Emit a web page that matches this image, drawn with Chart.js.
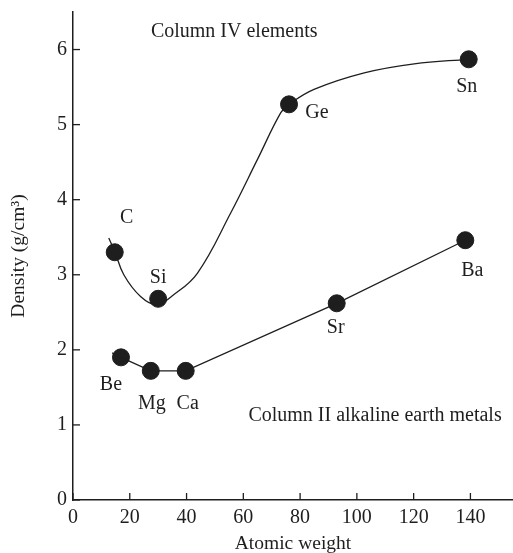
<!DOCTYPE html>
<html>
<head>
<meta charset="utf-8">
<script src="https://cdn.jsdelivr.net/npm/chart.js@4/dist/chart.umd.min.js"></script>
<style>
  body { margin: 0; background: #fff; }
  #wrap { width: 513px; height: 553px; }
</style>
</head>
<body>
<div id="wrap"><canvas id="chart" width="513" height="553"></canvas></div>
<script>
// column IV elements
const col4Names = ["C", "Si", "Ge", "Sn"];
const col4Weight = [14.7, 30.0, 76.1, 139.4];
const col4Density = [3.30, 2.68, 5.27, 5.87];
// hand drawn trend curve through them
const col4CurveX = [12.6, 14.7, 17.9, 23.8, 29.5, 35.0, 43.8, 55.5, 64.9, 73.2, 76.1, 84.9, 102.6, 120.2, 139.4];
const col4CurveY = [3.49, 3.31, 3.00, 2.71, 2.60, 2.72, 3.02, 3.82, 4.53, 5.16, 5.27, 5.47, 5.69, 5.81, 5.87];

// column II alkaline earth metals
const col2Names = ["Be", "Mg", "Ca", "Sr", "Ba"];
const col2Weight = [16.9, 27.4, 39.7, 92.9, 138.2];
const col2Density = [1.90, 1.72, 1.72, 2.62, 3.46];
const col2CurveX = [13.8, 16.9, 27.4, 39.7, 92.9, 138.2];
const col2CurveY = [1.96, 1.90, 1.72, 1.72, 2.62, 3.46];

const xTicks = [0, 20, 40, 60, 80, 100, 120, 140];
const yTicks = [0, 1, 2, 3, 4, 5, 6];

const ink = "#1e1e1e";
const serif = "'Liberation Serif', 'Times New Roman', serif";

const pts = (xs, ys) => xs.map((x, i) => ({ x: x, y: ys[i] }));

// name offsets (px) from each dot
const col4Offsets = [[12, -34], [0, -21], [28, 8], [-2, 27]];
const col2Offsets = [[-10, 27], [1, 33], [2, 33], [-1, 24], [7, 31]];

const labelPlugin = {
  id: "labels",
  afterDraw(chart) {
    const ctx = chart.ctx;
    const sx = chart.scales.x, sy = chart.scales.y;
    ctx.save();
    ctx.strokeStyle = ink;
    ctx.lineWidth = 1.3;
    // inward tick marks
    xTicks.forEach(v => {
      const px = sx.getPixelForValue(v);
      ctx.beginPath();
      ctx.moveTo(px, sy.bottom);
      ctx.lineTo(px, sy.bottom - 7);
      ctx.stroke();
    });
    yTicks.forEach(v => {
      const py = sy.getPixelForValue(v);
      ctx.beginPath();
      ctx.moveTo(sx.left, py);
      ctx.lineTo(sx.left + 7, py);
      ctx.stroke();
    });

    ctx.fillStyle = ink;
    ctx.font = "20px " + serif;
    ctx.textAlign = "center";
    ctx.textBaseline = "middle";
    col4Names.forEach((n, i) => {
      ctx.fillText(n, sx.getPixelForValue(col4Weight[i]) + col4Offsets[i][0],
        sy.getPixelForValue(col4Density[i]) + col4Offsets[i][1]);
    });
    col2Names.forEach((n, i) => {
      ctx.fillText(n, sx.getPixelForValue(col2Weight[i]) + col2Offsets[i][0],
        sy.getPixelForValue(col2Density[i]) + col2Offsets[i][1]);
    });
    ctx.fillText("Column IV elements", sx.getPixelForValue(56.8), sy.getPixelForValue(6.24));
    ctx.fillText("Column II alkaline earth metals", sx.getPixelForValue(106.4), sy.getPixelForValue(1.12));
    ctx.restore();
  }
};

new Chart(document.getElementById("chart"), {
  type: "scatter",
  data: {
    datasets: [
      {
        type: "line",
        data: pts(col4CurveX, col4CurveY),
        borderColor: ink,
        borderWidth: 1.3,
        pointRadius: 0,
        tension: 0.4,
        fill: false
      },
      {
        type: "line",
        data: pts(col2CurveX, col2CurveY),
        borderColor: ink,
        borderWidth: 1.3,
        pointRadius: 0,
        tension: 0,
        fill: false
      },
      {
        data: pts(col4Weight, col4Density),
        backgroundColor: ink,
        borderColor: ink,
        pointRadius: 8.5,
        pointHoverRadius: 8.5
      },
      {
        data: pts(col2Weight, col2Density),
        backgroundColor: ink,
        borderColor: ink,
        pointRadius: 8.5,
        pointHoverRadius: 8.5
      }
    ]
  },
  options: {
    responsive: false,
    animation: false,
    layout: { autoPadding: false, padding: { left: 0, top: 12, right: 0, bottom: 0 } },
    plugins: {
      legend: { display: false },
      tooltip: { enabled: false }
    },
    scales: {
      x: {
        type: "linear",
        min: 0,
        max: 155,
        afterFit: s => { s.height = 53; s.paddingLeft = 0; s.paddingRight = 0; },
        grid: { display: false, drawTicks: false },
        border: { color: ink, width: 1.5 },
        ticks: {
          stepSize: 20,
          includeBounds: false,
          padding: 6,
          color: ink,
          font: { family: serif, size: 20 }
        },
        title: {
          display: true,
          text: "Atomic weight",
          color: ink,
          font: { family: serif, size: 19.5 },
          padding: { top: 0, bottom: -3 }
        }
      },
      y: {
        min: 0,
        max: 6.5,
        afterFit: s => { s.width = 73; s.paddingTop = 0; s.paddingBottom = 0; },
        grid: { display: false, drawTicks: false },
        border: { color: ink, width: 1.5 },
        ticks: {
          stepSize: 1,
          includeBounds: false,
          padding: 6,
          color: ink,
          font: { family: serif, size: 20 }
        },
        title: {
          display: true,
          text: "Density (g/cm³)",
          color: ink,
          font: { family: serif, size: 19.5 },
          padding: { top: 7, bottom: 0 }
        }
      }
    }
  },
  plugins: [labelPlugin]
});
</script>
</body>
</html>
